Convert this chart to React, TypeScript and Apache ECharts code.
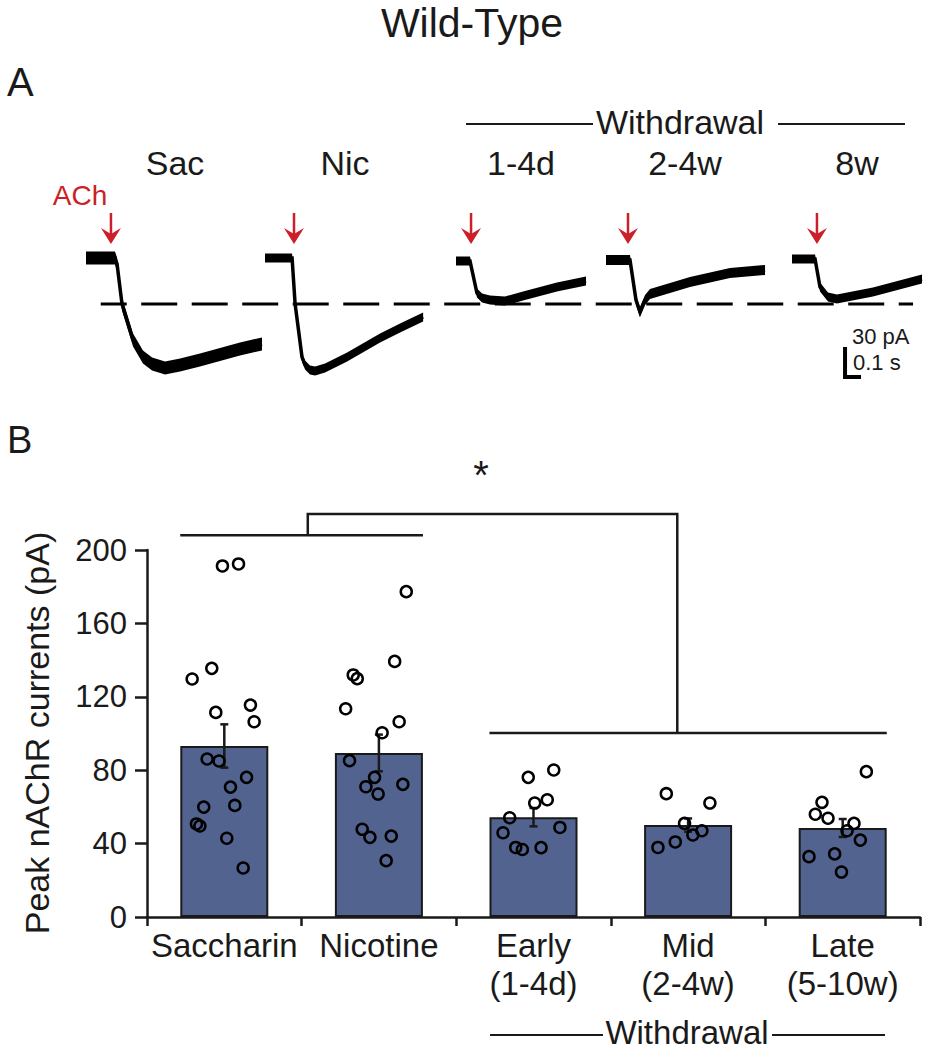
import React, { useEffect, useRef } from "react";
import * as echarts from "echarts";

// ---------------- Panel A: representative traces (t in s from trace start, current in pA vs baseline) ----------------
const traceLabels = ["Sac", "Nic", "1-4d", "2-4w", "8w"];
const sacTraceT = [0, 0.181, 0.194, 0.225, 0.294, 0.356, 0.413, 0.494, 0.588, 0.7125, 0.9625, 1.1];
const sacTraceI = [0, 0, -6, -46, -82, -99, -106, -110, -107, -102, -91, -86];
const nicTraceT = [0, 0.169, 0.188, 0.231, 0.25, 0.281, 0.313, 0.375, 0.513, 0.719, 0.844, 0.988];
const nicTraceI = [0, 0, -46, -99, -107, -112, -113, -110, -99, -80, -70, -59];
const d14TraceT = [0, 0.0875, 0.131, 0.163, 0.2125, 0.306, 0.419, 0.631, 0.8125];
const d14TraceI = [0, 0, -32, -37, -39, -40, -35, -26, -20];
const w24TraceT = [0, 0.15, 0.1875, 0.2125, 0.244, 0.275, 0.525, 0.775, 0.994];
const w24TraceI = [0, 0, -40, -52, -40, -34, -22, -13, -10];
const w8TraceT = [0, 0.144, 0.175, 0.225, 0.281, 0.506, 0.8125];
const w8TraceI = [0, 0, -28, -38, -40, -33, -20];
const achOnset = [0.156, 0.181, 0.094, 0.1375, 0.156]; // s from trace start
const dashedLevel = -45; // pA
const scaleBarPA = 30;
const scaleBarS = 0.1;

// ---------------- Panel B: peak nAChR currents ----------------
const groups = ["Saccharin", "Nicotine", "Early\n(1-4d)", "Mid\n(2-4w)", "Late\n(5-10w)"];
const meanCurrent = [93.2, 89.4, 54.4, 50.1, 48.5];
const semCurrent = [11.8, 10.0, 5.0, 3.6, 4.9];
const yTicks = [0, 40, 80, 120, 160, 200];

const sacPoints = [191.3, 192.4, 135.5, 129.7, 111.5, 115.5, 106.4, 86.1, 85.0, 76.1, 70.8, 59.9, 60.8, 50.7, 49.6, 42.9, 26.7];
const sacJitter = [-0.012, 0.092, -0.081, -0.208, -0.055, 0.169, 0.193, -0.111, -0.034, 0.144, 0.04, -0.133, 0.068, -0.18, -0.158, 0.016, 0.122];
const nicPoints = [177.3, 139.3, 131.9, 129.9, 113.5, 106.4, 100.4, 85.2, 76.1, 72.3, 71.0, 67.0, 47.8, 43.4, 44.1, 30.7];
const nicJitter = [0.177, 0.102, -0.166, -0.14, -0.215, 0.131, 0.021, -0.19, -0.028, 0.155, -0.084, -0.005, -0.108, -0.058, 0.08, 0.047];
const earlyPoints = [80.1, 76.1, 63.9, 62.1, 54.1, 45.9, 48.8, 37.9, 36.8, 37.8];
const earlyJitter = [0.131, -0.034, 0.089, 0.008, -0.154, -0.197, 0.171, -0.115, -0.072, 0.049];
const midPoints = [67.2, 62.1, 51.0, 47.0, 44.7, 40.9, 37.9];
const midJitter = [-0.141, 0.141, -0.023, 0.089, 0.031, -0.083, -0.195];
const latePoints = [79.2, 62.5, 56.0, 53.8, 51.0, 47.0, 41.9, 32.9, 34.4, 24.5];
const lateJitter = [0.153, -0.134, -0.177, -0.095, 0.073, 0.028, 0.114, -0.218, -0.052, -0.008];

// significance bracket (y in pA)
const bracketLeftY = 208;
const bracketRightY = 100.3;
const bracketTopY = 219.6;

// ---------------- layout / style ----------------
const FONT = "'Liberation Sans', Arial, Helvetica, sans-serif";
const INK = "#1a1a1a";
const RED = "#cc1f27";
const BAR = "#53638f";
const traceStart = [0, 1.119, 2.3125, 3.25, 4.4125];
const traceBase = [1, 1, -2, -1, 0];
const traceNoise = [6.5, 4.5, 4.5, 5, 4.5];

export default function App() {
  const ref = useRef<HTMLDivElement>(null);
  useEffect(() => {
    document.body.style.margin = "0";
    if (!ref.current) return;
    const chart = echarts.init(ref.current, undefined, { renderer: "svg" });

    const traces = [
      [sacTraceT, sacTraceI],
      [nicTraceT, nicTraceI],
      [d14TraceT, d14TraceI],
      [w24TraceT, w24TraceI],
      [w8TraceT, w8TraceI],
    ];

    const pointSets = [
      [sacPoints, sacJitter],
      [nicPoints, nicJitter],
      [earlyPoints, earlyJitter],
      [midPoints, midJitter],
      [latePoints, lateJitter],
    ];
    const scatterData: number[][] = [];
    pointSets.forEach(([vals, jit], gi) => {
      vals.forEach((v, k) => scatterData.push([gi + jit[k], v]));
    });

    const barHalf = 0.285;
    const stemL = 0.54;
    const stemR = 2.93;

    const txt = (text: string, x: number, y: number, fontSize: number, extra: any = {}) => ({
      type: "text",
      x,
      y,
      silent: true,
      style: {
        text,
        fontSize,
        fontFamily: FONT,
        fill: INK,
        align: "center",
        verticalAlign: "middle",
        ...extra,
      },
    });
    const hline = (x1: number, x2: number, y: number) => ({
      type: "line",
      silent: true,
      shape: { x1, y1: y, x2, y2: y },
      style: { stroke: INK, lineWidth: 2 },
    });

    const traceLabelX = [175, 345, 521, 685, 857];

    const option: any = {
      animation: false,
      textStyle: { fontFamily: FONT },
      grid: [
        { left: 86, top: 209, width: 840, height: 200 },
        { left: 147, top: 550, width: 773, height: 367 },
      ],
      xAxis: [
        { gridIndex: 0, type: "value", min: 0, max: 5.25, show: false },
        {
          gridIndex: 1,
          type: "category",
          data: groups,
          axisLine: { onZero: false, lineStyle: { color: INK, width: 2.5 } },
          axisTick: { show: true, length: 9, lineStyle: { color: INK, width: 2.5 } },
          axisLabel: { color: INK, fontSize: 33, lineHeight: 38, margin: 9, fontFamily: FONT, interval: 0 },
        },
        { gridIndex: 1, type: "value", min: -0.5, max: 4.5, show: false, axisLine: { onZero: false } },
      ],
      yAxis: [
        { gridIndex: 0, type: "value", min: -150, max: 50, show: false },
        {
          gridIndex: 1,
          type: "value",
          min: 0,
          max: 200,
          interval: 40,
          axisLine: { show: true, onZero: false, lineStyle: { color: INK, width: 2.5 } },
          axisTick: { show: true, length: 12, lineStyle: { color: INK, width: 2.5 } },
          axisLabel: {
            color: INK,
            fontSize: 31,
            margin: 20,
            fontFamily: FONT,
            formatter: (v: number) => (yTicks.indexOf(v) >= 0 ? String(v) : ""),
          },
          splitLine: { show: false },
        },
      ],
      series: [
        // ---- Panel A traces
        {
          type: "custom",
          xAxisIndex: 0,
          yAxisIndex: 0,
          data: traces.map((_, i) => [traceStart[i], 0, i]),
          renderItem: (params: any, api: any) => {
            const i = params.dataIndex;
            const [ts, is] = traces[i];
            const pts = ts.map((t: number, k: number) => api.coord([traceStart[i] + t, is[k] + traceBase[i]]));
            const n = traceNoise[i];
            const top = pts.map((p: number[]) => [p[0], p[1] - n]);
            const bot = pts.map((p: number[]) => [p[0], p[1] + n]).reverse();
            return {
              type: "group",
              children: [
                { type: "polygon", shape: { points: top.concat(bot) }, style: { fill: "#000" } },
                { type: "polyline", shape: { points: pts }, style: { stroke: "#000", lineWidth: 3.5, fill: null } },
              ],
            };
          },
          silent: true,
        },
        // ---- ACh arrows
        {
          type: "custom",
          xAxisIndex: 0,
          yAxisIndex: 0,
          data: achOnset.map((t, i) => [traceStart[i] + t, 15]),
          renderItem: (params: any, api: any) => {
            const tail = api.coord([api.value(0), 46]);
            const tip = api.coord([api.value(0), api.value(1)]);
            const x = tip[0];
            return {
              type: "group",
              children: [
                { type: "line", shape: { x1: x, y1: tail[1], x2: x, y2: tip[1] - 10 }, style: { stroke: RED, lineWidth: 2.5 } },
                {
                  type: "polygon",
                  shape: { points: [[x - 10, tip[1] - 16], [x, tip[1] - 10], [x + 10, tip[1] - 16], [x, tip[1]]] },
                  style: { fill: RED },
                },
              ],
            };
          },
          silent: true,
        },
        // ---- dashed reference line
        {
          type: "line",
          xAxisIndex: 0,
          yAxisIndex: 0,
          data: [[0.092, dashedLevel], [5.169, dashedLevel]],
          symbol: "none",
          lineStyle: { color: "#000", width: 3, type: [36, 14.5], dashOffset: 10 },
          silent: true,
          z: 1,
        },
        // ---- scale bar
        {
          type: "line",
          xAxisIndex: 0,
          yAxisIndex: 0,
          data: [[4.744, -118 + scaleBarPA], [4.744, -118], [4.744 + scaleBarS, -118]],
          symbol: "none",
          lineStyle: { color: "#000", width: 4, cap: "butt", join: "miter" },
          silent: true,
        },
        // ---- Panel B bars
        {
          type: "bar",
          xAxisIndex: 1,
          yAxisIndex: 1,
          data: meanCurrent,
          barWidth: 88,
          itemStyle: { color: BAR, borderColor: INK, borderWidth: 2 },
          silent: true,
          z: 2,
        },
        // ---- error bars (mean ± SEM)
        {
          type: "custom",
          xAxisIndex: 2,
          yAxisIndex: 1,
          clip: false,
          data: meanCurrent.map((m, i) => [i, m + semCurrent[i], m - semCurrent[i]]),
          encode: { x: 0, y: [1, 2] },
          renderItem: (params: any, api: any) => {
            const i = api.value(0);
            const hi = api.coord([i, api.value(1)]);
            const lo = api.coord([i, api.value(2)]);
            const x = hi[0];
            const st = { stroke: INK, lineWidth: 2.5 };
            return {
              type: "group",
              children: [
                { type: "line", shape: { x1: x, y1: hi[1], x2: x, y2: lo[1] }, style: st },
                { type: "line", shape: { x1: x - 4, y1: hi[1], x2: x + 4, y2: hi[1] }, style: st },
                { type: "line", shape: { x1: x - 4, y1: lo[1], x2: x + 4, y2: lo[1] }, style: st },
              ],
            };
          },
          silent: true,
          z: 3,
        },
        // ---- individual cells
        {
          type: "scatter",
          xAxisIndex: 2,
          yAxisIndex: 1,
          data: scatterData,
          symbol: "circle",
          symbolSize: 11,
          itemStyle: { color: "rgba(0,0,0,0)", borderColor: "#000", borderWidth: 2.5, opacity: 1 },
          silent: true,
          z: 4,
        },
        // ---- significance bracket
        {
          type: "custom",
          xAxisIndex: 2,
          yAxisIndex: 1,
          clip: false,
          data: [[0, bracketLeftY]],
          renderItem: (params: any, api: any) => {
            const c = (x: number, y: number) => api.coord([x, y]);
            const st = { stroke: INK, lineWidth: 2.5, fill: null };
            return {
              type: "group",
              children: [
                { type: "polyline", shape: { points: [c(-barHalf, bracketLeftY), c(1 + barHalf, bracketLeftY)] }, style: st },
                {
                  type: "polyline",
                  shape: {
                    points: [c(stemL, bracketLeftY), c(stemL, bracketTopY), c(stemR, bracketTopY), c(stemR, bracketRightY)],
                  },
                  style: st,
                },
                { type: "polyline", shape: { points: [c(2 - barHalf, bracketRightY), c(4 + barHalf, bracketRightY)] }, style: st },
              ],
            };
          },
          silent: true,
        },
      ],
      graphic: [
        txt("Wild-Type", 472, 23, 41),
        txt("A", 7, 82, 40, { align: "left" }),
        txt("B", 7, 440, 38, { align: "left" }),
        ...traceLabels.map((l, i) => txt(l, traceLabelX[i], 163, 34)),
        txt("Withdrawal", 680, 122, 34),
        hline(466, 593, 124),
        hline(778, 905, 124),
        txt("ACh", 80, 195, 28, { fill: RED }),
        txt(`${scaleBarPA} pA`, 852, 336, 22, { align: "left" }),
        txt(`${scaleBarS} s`, 853, 362, 22, { align: "left" }),
        txt("*", 481, 475, 40),
        { ...txt("Peak nAChR currents (pA)", 37, 733, 34), rotation: Math.PI / 2 },
        txt("Withdrawal", 687, 1032, 33),
        hline(490, 603, 1035),
        hline(772, 885, 1035),
      ],
    };

    chart.setOption(option);
    return () => chart.dispose();
  }, []);

  return <div ref={ref} style={{ width: 929, height: 1050, background: "#fff" }} />;
}
